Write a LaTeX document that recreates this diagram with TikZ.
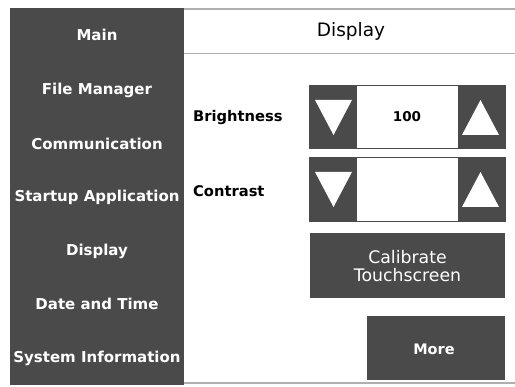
\documentclass[tikz,border=0pt]{standalone}
\usepackage{fontspec}
\setmainfont{DejaVu Sans}
\definecolor{panel}{RGB}{74,74,74}
\definecolor{rule}{RGB}{175,175,175}
\begin{document}
\begin{tikzpicture}[x=1pt,y=-1pt,
  menuitem/.style={text=white,font=\fontsize{15}{17}\selectfont\bfseries,inner sep=0pt},
  label/.style={text=black,font=\fontsize{14.7}{16}\selectfont\bfseries,inner sep=0pt,anchor=west},
  btntext/.style={text=white,font=\fontsize{17.3}{18}\selectfont,align=center,inner sep=0pt},
  arrowtri/.style={fill=white,draw=none},
  sep/.style={draw=rule,line width=1.6pt}]
  % canvas
  \fill[white] (0,0) rectangle (515,387);
  \useasboundingbox (0,0) rectangle (515,387);

  % side menu
  \fill[panel] (10,8) rectangle (184,385);
  \node[menuitem] (mMain)  at (97,35)  {Main};
  \node[menuitem] (mFile)  at (97,90)  {File Manager};
  \node[menuitem] (mComm)  at (97,144) {Communication};
  \node[menuitem] (mStart) at (97,197) {Startup Application};
  \node[menuitem] (mDisp)  at (97,251) {Display};
  \node[menuitem] (mDate)  at (97,304) {Date and Time};
  \node[menuitem] (mSys)   at (97,358) {System Information};

  % header and frame lines
  \draw[sep] (184,9) -- (515,9);
  \draw[sep] (184,53.5) -- (515,53.5);
  \draw[sep] (184,383) -- (515,383);
  \node[font=\fontsize{18.5}{20}\selectfont,inner sep=0pt] (title) at (351,31) {Display};

  % brightness row
  \node[label] (lBright) at (193,118) {Brightness};
  \draw[draw=panel,line width=1.2pt] (310,85.5) rectangle (505,148.5);
  \fill[panel] (310,85) rectangle (357,149);
  \fill[panel] (458,85) rectangle (505,149);
  \fill[arrowtri] (315,100) -- (352,100) -- (333.5,135) -- cycle;
  \fill[arrowtri] (462,135) -- (499,135) -- (480.5,100) -- cycle;
  \node[font=\fontsize{13.5}{15}\selectfont\bfseries,inner sep=0pt] (vBright) at (407,117) {100};

  % contrast row
  \node[label] (lContr) at (193,191) {Contrast};
  \draw[draw=panel,line width=1.2pt] (310,157.5) rectangle (505,221.5);
  \fill[panel] (310,157) rectangle (357,222);
  \fill[panel] (458,157) rectangle (505,222);
  \fill[arrowtri] (315,172) -- (352,172) -- (333.5,207) -- cycle;
  \fill[arrowtri] (462,207) -- (499,207) -- (480.5,172) -- cycle;

  % buttons
  \fill[panel] (310,233) rectangle (505,298);
  \node[btntext] (bCal) at (407.5,266) {Calibrate\\Touchscreen};
  \fill[panel] (367,316) rectangle (505,380);
  \node[btntext,font=\fontsize{14.5}{16}\selectfont\bfseries] (bMore) at (434,349) {More};
\end{tikzpicture}
\end{document}
